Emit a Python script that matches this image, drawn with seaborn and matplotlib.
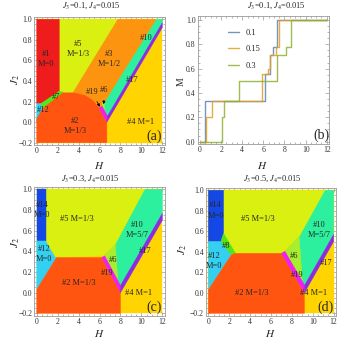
import matplotlib
matplotlib.use("Agg")
import matplotlib.pyplot as plt
import seaborn as sns
import pandas as pd
from matplotlib.ticker import MultipleLocator, FuncFormatter

# phase regions, vertices (H, J2); painted in this order
phases_a = [
    ("4", [(0, -0.2), (12, -0.2), (12, 1.0), (0, 1.0)]),
    ("3", [(3.4, 0.285), (7.7, 1.0), (11.45, 1.0), (6.3, 0.16), (5.95, 0.14)]),
    ("5", [(2.15, 1.0), (7.7, 1.0), (3.4, 0.285), (2.15, 0.285)]),
    ("1", [(0, 1.0), (2.15, 1.0), (2.15, 0.3), (0.4, 0.18), (0, 0.18)]),
    ("12", [(0, 0.0), (0, 0.18), (0.4, 0.18), (0.6, 0.135), (0.6, 0.0)]),
    ("7", [(0.4, 0.18), (2.15, 0.3), (2.55, 0.29), (2.5, 0.285), (0.6, 0.135)]),
    ("2", [(0, -0.2), (6.7, -0.2), (6.7, 0.0), (5.95, 0.14), (5.3, 0.215), (4.6, 0.26),
           (3.5, 0.285), (2.5, 0.285), (0.6, 0.135), (0, 0.035)]),
    ("10", [(6.3, 0.16), (11.45, 1.0), (12, 1.0), (12, 0.968), (6.76, 0.059)]),
    ("6", [(6.24, 0.156), (6.3, 0.2), (6.45, 0.19), (6.5, 0.12)]),
    ("19", [(5.95, 0.14), (6.7, 0.0), (6.76, 0.059), (6.24, 0.156)]),
    ("17", [(6.7, 0.0), (12, 0.92), (12, 0.968), (6.76, 0.059)]),
]
phases_c = [
    ("4", [(0, -0.2), (12, -0.2), (12, 1.0), (0, 1.0)]),
    ("10", [(7.5, 0.47), (10.3, 1.0), (12, 1.0), (12, 0.768), (8.0, 0.069), (7.75, 0.118)]),
    ("5", [(0.85, 1.0), (10.3, 1.0), (7.5, 0.47), (6.3, 0.36), (1.9, 0.34), (0.85, 0.5)]),
    ("14", [(0, 0.5), (0, 1.0), (0.85, 1.0), (0.85, 0.5)]),
    ("12", [(0, 0.03), (0, 0.5), (0.85, 0.5), (1.75, 0.34), (1.9, 0.34)]),
    ("2", [(0, -0.2), (8.0, -0.2), (8.0, 0.0), (6.2, 0.34), (1.9, 0.34), (0, 0.03)]),
    ("6", [(6.49, 0.356), (7.5, 0.47), (7.75, 0.118)]),
    ("19", [(6.2, 0.34), (8.0, 0.0), (8.0, 0.069), (6.49, 0.356)]),
    ("17", [(8.0, 0.0), (12, 0.7), (12, 0.768), (8.0, 0.069)]),
]
phases_d = [
    ("4", [(0, -0.2), (12, -0.2), (12, 1.0), (0, 1.0)]),
    ("10", [(8.7, 0.55), (11.15, 1.0), (12, 1.0), (12, 0.569), (9.22, 0.074), (9.0, 0.11)]),
    ("5", [(1.45, 1.0), (11.15, 1.0), (8.7, 0.55), (7.0, 0.385), (2.6, 0.385), (1.45, 0.58)]),
    ("14", [(0, 0.5), (0, 1.0), (1.45, 1.0), (1.45, 0.58), (1.2, 0.5)]),
    ("12", [(0, 0.03), (0, 0.5), (1.2, 0.5), (2.2, 0.37)]),
    ("8", [(1.2, 0.5), (1.45, 0.58), (2.6, 0.385), (2.2, 0.37)]),
    ("2", [(0, -0.2), (9.2, -0.2), (9.2, 0.0), (7.0, 0.385), (2.6, 0.385), (2.2, 0.37), (0, 0.03)]),
    ("6", [(7.33, 0.405), (8.7, 0.55), (9.0, 0.11)]),
    ("19", [(7.0, 0.385), (9.2, 0.0), (9.22, 0.074), (7.33, 0.405)]),
    ("17", [(9.2, 0.0), (12, 0.5), (12, 0.569), (9.22, 0.074)]),
]

labels_a = [("#1\nM=0", 0.92, 0.61), ("#5\nM=1/3", 3.98, 0.71), ("#3\nM=1/2", 6.9, 0.61),
            ("#10", 10.5, 0.815), ("#17", 9.1, 0.41), ("#12", 0.57, 0.118), ("#7", 1.85, 0.24),
            ("#2\nM=1/3", 3.66, -0.035), ("#4 M=1", 9.9, 0.005)]
arrows_a = [("#19", 5.25, 0.296, 6.02, 0.15), ("#6", 6.45, 0.31, 6.4, 0.175)]
labels_c = [("#14\nM=0", 0.5, 0.8), ("#5 M=1/3", 3.82, 0.71), ("#12\nM=0", 0.72, 0.373),
            ("#10\nM=5/7", 9.63, 0.605), ("#17", 10.4, 0.403), ("#6", 7.26, 0.32),
            ("#19", 6.75, 0.187), ("#2 M=1/3", 3.98, 0.097), ("#4 M=1", 9.71, 0.0)]
labels_d = [("#14\nM=0", 0.7, 0.803), ("#5 M=1/3", 4.7, 0.717), ("#12\nM=0", 0.55, 0.31),
            ("#8", 1.73, 0.46), ("#10\nM=5/7", 10.6, 0.612), ("#17", 11.3, 0.294),
            ("#6", 8.25, 0.36), ("#19", 8.5, 0.174), ("#2 M=1/3", 4.2, -0.005),
            ("#4 M=1", 10.1, -0.005)]

# magnetization curves at J3=0.1, J4=0.015 (steps: H where M jumps, M after jump)
j2_values = ["0.1", "0.15", "0.3"]
h_01 = [0, 0.47, 6.2, 6.6, 6.95, 7.32, 12]
m_01 = [0, 1/3, 5/9, 5/7, 7/9, 1, 1]
h_015 = [0, 0.57, 1.1, 5.9, 6.4, 6.63, 7.17, 7.51, 12]
m_015 = [0, 0.2, 1/3, 5/9, 3/5, 5/7, 7/9, 1, 1]
h_03 = [0, 2.11, 2.3, 3.67, 7.26, 8.14, 8.59, 12]
m_03 = [0, 0.2, 1/3, 1/2, 5/7, 7/9, 1, 1]

titles = [r"$J_3$=0.1, $J_4$=0.015", r"$J_3$=0.1, $J_4$=0.015",
          r"$J_3$=0.3, $J_4$=0.015", r"$J_3$=0.5, $J_4$=0.015"]

PHASE_COLORS = {"1": "#ee1c1c", "2": "#ff5511", "3": "#fc9410", "4": "#ffd400",
                "5": "#daf010", "6": "#a6ee2e", "7": "#52e61c", "8": "#52e61c",
                "10": "#2cf09e", "12": "#33d0f2", "14": "#1448e6", "17": "#8a2be6",
                "19": "#f01ef0"}
LINE_COLORS = ["#5e81b5", "#e19c24", "#8fb032"]

sns.set_style("ticks")
plt.rcParams["font.family"] = ["Liberation Serif", "DejaVu Serif"]
plt.rcParams["mathtext.fontset"] = "stix"

fig = plt.figure(figsize=(3.53, 3.53), dpi=100)
ax_a = fig.add_axes([0.0975, 0.5884, 0.369, 0.3643])
ax_b = fig.add_axes([0.560, 0.5918, 0.3722, 0.3637])
ax_c = fig.add_axes([0.0975, 0.1051, 0.369, 0.366])
ax_d = fig.add_axes([0.5839, 0.1051, 0.3677, 0.3632])

minus = FuncFormatter(lambda v, _: f"{v:.1f}".replace("-", "\u2212"))


def style_axes(ax, ylim, ystep):
    ax.set_xlim(-0.22, 12.22)
    ax.set_ylim(*ylim)
    ax.xaxis.set_major_locator(MultipleLocator(2))
    ax.xaxis.set_minor_locator(MultipleLocator(0.5))
    ax.yaxis.set_major_locator(MultipleLocator(0.2))
    ax.yaxis.set_minor_locator(MultipleLocator(ystep))
    ax.yaxis.set_major_formatter(minus)
    ax.tick_params(which="both", direction="in", top=True, right=True, color="#9a9a9a",
                   width=0.5, labelsize=5.6, labelcolor="#333333", pad=1.5)
    ax.tick_params(which="major", length=3)
    ax.tick_params(which="minor", length=1.5)
    for sp in ax.spines.values():
        sp.set_color("#9a9a9a")
        sp.set_linewidth(0.6)
    ax.set_xlabel("")
    ax.set_ylabel("")


def draw_phases(ax, phases, labels, tag):
    for pid, verts in phases:
        xs = [v[0] for v in verts]
        ys = [v[1] for v in verts]
        ax.fill(xs, ys, color=PHASE_COLORS[pid], lw=0.3)
    for txt, h, j in labels:
        ax.text(h, j, txt, ha="center", va="center", fontsize=6, linespacing=1.35)
    ax.text(11.25, -0.14, tag, ha="center", va="center", fontsize=10)
    style_axes(ax, (-0.225, 1.025), 0.05)


draw_phases(ax_a, phases_a, labels_a, "(a)")
for txt, h, j, th, tj in arrows_a:
    ax_a.annotate(txt, xy=(th, tj), xytext=(h, j), ha="center", va="center", fontsize=6,
                  arrowprops=dict(arrowstyle="-|>", lw=0.5, color="k", mutation_scale=4,
                                  shrinkA=2, shrinkB=0))
draw_phases(ax_c, phases_c, labels_c, "(c)")
draw_phases(ax_d, phases_d, labels_d, "(d)")

rows = []
for name, hs, ms in zip(j2_values, [h_01, h_015, h_03], [m_01, m_015, m_03]):
    for h, m in zip(hs, ms):
        rows.append({"J2": name, "H": h, "M": m})
mag = pd.DataFrame(rows)
sns.lineplot(data=mag, x="H", y="M", hue="J2", hue_order=j2_values,
             palette=LINE_COLORS, estimator=None, sort=False, drawstyle="steps-post",
             lw=1.0, alpha=0.85, ax=ax_b)
handles, names = ax_b.get_legend_handles_labels()
ax_b.legend(handles, names, loc="upper left", bbox_to_anchor=(0.2, 0.93), frameon=False,
            fontsize=6, handlelength=1.3, handletextpad=0.8, labelspacing=1.0, borderpad=0)
ax_b.text(11.5, 0.05, "(b)", ha="center", va="center", fontsize=10)
style_axes(ax_b, (-0.02, 1.035), 0.05)

# titles and axis labels placed over each panel
for (x, y), t in zip([(0.258, 0.983), (0.782, 0.983), (0.257, 0.493), (0.773, 0.493)], titles):
    fig.text(x, y, t, ha="center", va="center", fontsize=6)
for x, y in [(0.281, 0.532), (0.742, 0.532), (0.281, 0.056), (0.766, 0.056)]:
    fig.text(x, y, "$H$", ha="center", va="center", fontsize=8)
for x, y in [(0.045, 0.773), (0.045, 0.312), (0.518, 0.292)]:
    fig.text(x, y, "$J_2$", ha="center", va="center", fontsize=8, rotation=90)
fig.text(0.512, 0.769, "M", ha="center", va="center", fontsize=7, rotation=90)

fig.savefig("out.png", dpi=100)
